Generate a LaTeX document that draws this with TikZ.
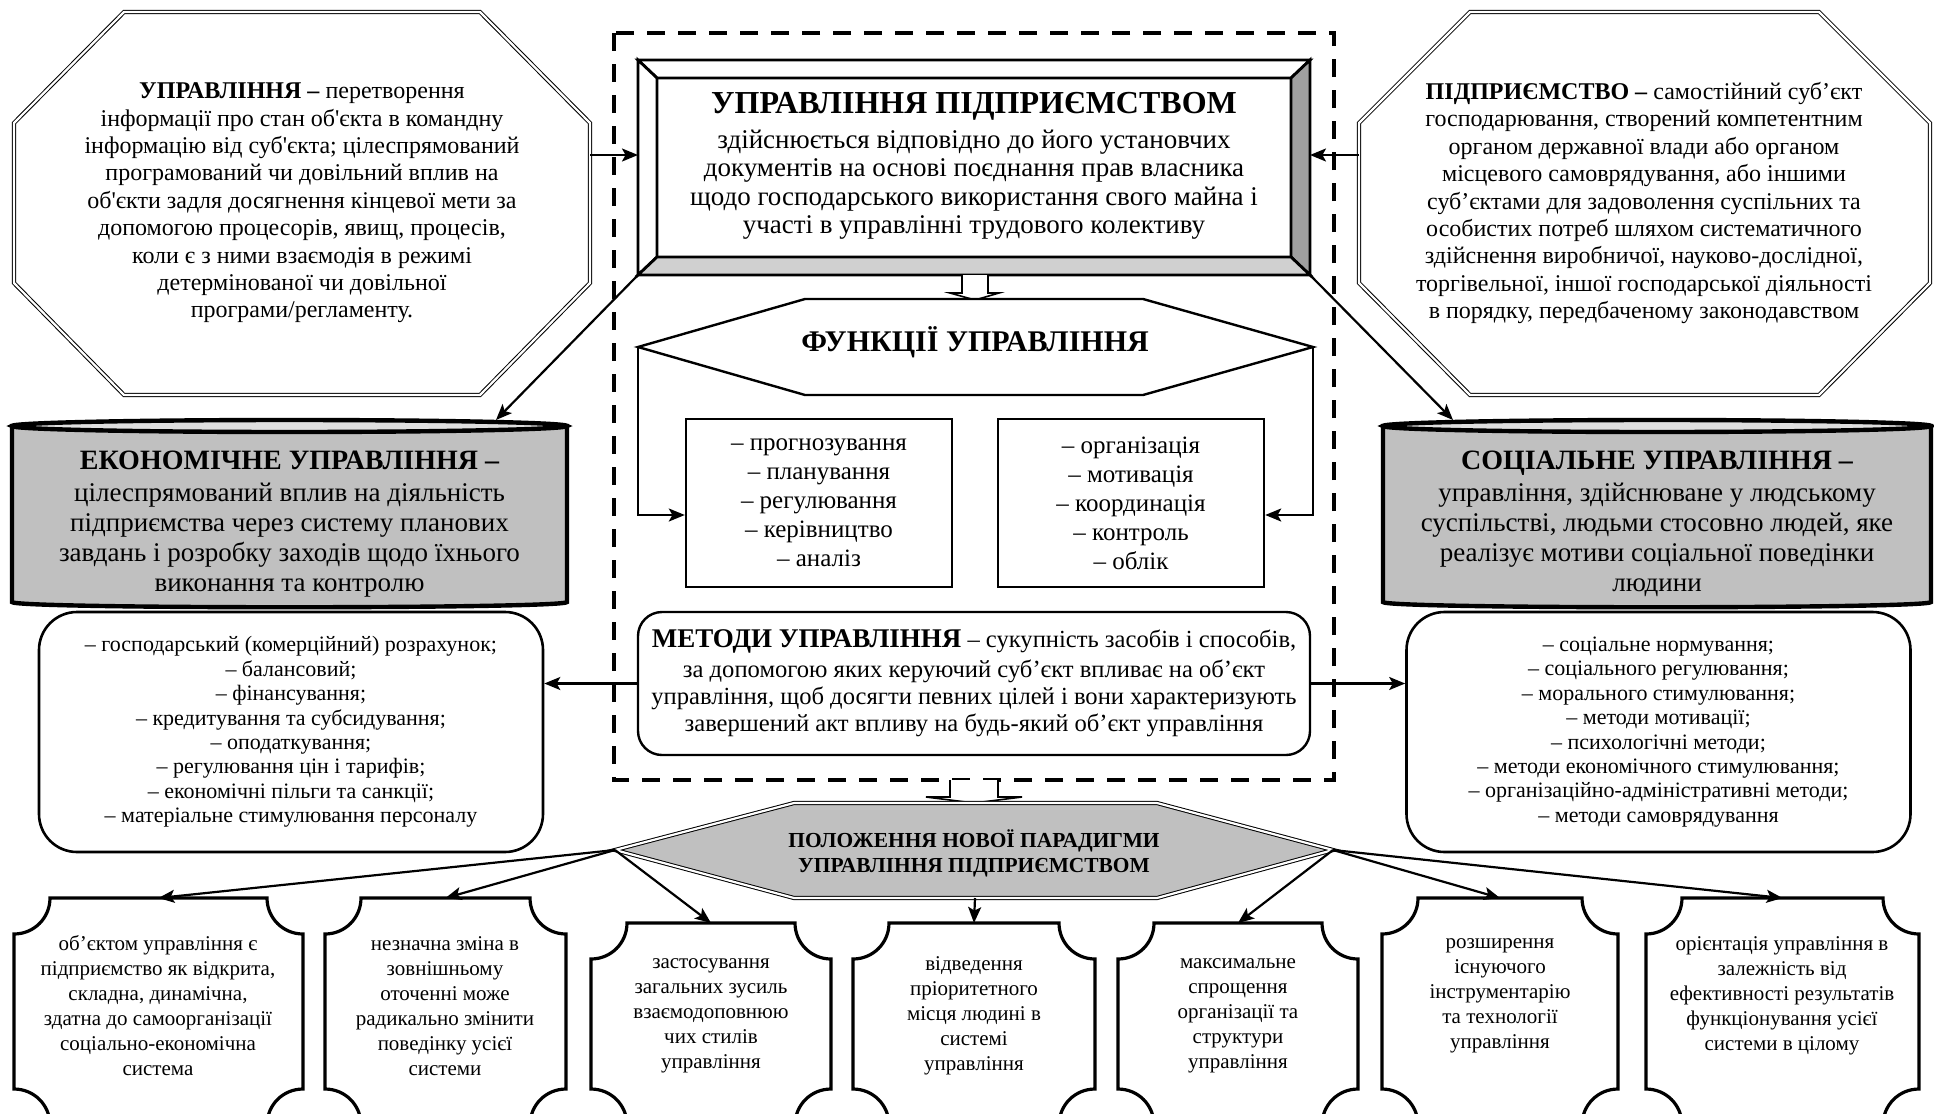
\documentclass[tikz,border=0pt]{standalone}
\usepackage{fontspec}
\setmainfont{Liberation Serif}
\usetikzlibrary{arrows.meta}
\definecolor{cylgray}{RGB}{192,192,192}
\definecolor{toplight}{RGB}{222,222,222}
\definecolor{bevlight}{RGB}{208,208,208}
\definecolor{bevdark}{RGB}{160,160,160}
\newcommand{\apos}{\textquotesingle}

\begin{document}
\begin{tikzpicture}[x=0.5pt,y=-0.5pt,
    >={Stealth[length=8pt,width=6.5pt,inset=1.8pt]},
    arr/.style={->,line width=1.1pt},
    txt/.style={align=center,inner sep=0pt},
    octbox/.style={fill=white,draw,line width=0.5pt,double,double distance=1.1pt},
    octtext/.style={txt,font=\fontsize{12}{13.7}\selectfont},
    funbox/.style={draw,line width=1.2pt,minimum width=133pt,minimum height=84pt,align=center,inner sep=0pt,font=\fontsize{12.5}{14.5}\selectfont},
    listbox/.style={draw,line width=1.3pt,rounded corners=19pt,minimum width=252pt,minimum height=120pt,align=center,inner sep=0pt,font=\fontsize{11}{12.2}\selectfont},
    cyl/.style={fill=cylgray,draw,line width=2.2pt},
    cyltext/.style={txt,font=\fontsize{13.5}{15}\selectfont},
    plaque/.style={fill=white,draw,line width=1.6pt},
    boxtext/.style={txt,font=\fontsize{10.5}{12.5}\selectfont}]

    \useasboundingbox (0,0) rectangle (1934,1114);
    \clip (0,0) rectangle (1934,1114);
    \fill[white] (0,0) rectangle (1934,1114);

    % dashed frame round the centre
    \draw[line width=2.2pt,dash pattern=on 9pt off 6.5pt] (614,33) rectangle (1334,780);

    % the two octagons
    \draw[octbox] (124,12) -- (480,12) -- (590,123) -- (590,283) -- (480,395) -- (124,395) -- (14,283) -- (14,123) -- cycle;
    \node[octtext] (upr) at (302,203) {\textbf{УПРАВЛІННЯ –} перетворення\\
        інформації про стан об\apos єкта в командну\\
        інформацію від суб\apos єкта; цілеспрямований\\
        програмований чи довільний вплив на\\
        об\apos єкти задля досягнення кінцевої мети за\\
        допомогою процесорів, явищ, процесів,\\
        коли є з ними взаємодія в режимі\\
        детермінованої чи довільної\\
        програми/регламенту.};
    \draw[octbox] (1470,12) -- (1819,12) -- (1930,123) -- (1930,283) -- (1819,395) -- (1470,395) -- (1359,283) -- (1359,123) -- cycle;
    \node[octtext] (pidpr) at (1644,203) {\textbf{ПІДПРИЄМСТВО –} самостійний суб’єкт\\
        господарювання, створений компетентним\\
        органом державної влади або органом\\
        місцевого самоврядування, або іншими\\
        суб’єктами для задоволення суспільних та\\
        особистих потреб шляхом систематичного\\
        здійснення виробничої, науково-дослідної,\\
        торгівельної, іншої господарської діяльності\\
        в порядку, передбаченому законодавством};
    \coordinate (uprR) at (590,155);
    \coordinate (pidprL) at (1359,155);

    % main box with bevel
    \node[minimum width=336pt,minimum height=107.5pt,inner sep=0pt,outer sep=0pt] (mainouter) at (974,167.5) {};
    \filldraw[fill=white,line width=1.4pt] (638,60) -- (1310,60) -- (1291,78) -- (657,78) -- cycle;
    \filldraw[fill=white,line width=1.4pt] (638,60) -- (657,78) -- (657,257) -- (638,275) -- cycle;
    \filldraw[fill=bevdark,line width=1.4pt] (1310,60) -- (1310,275) -- (1291,257) -- (1291,78) -- cycle;
    \filldraw[fill=bevlight,line width=1.4pt] (638,275) -- (1310,275) -- (1291,257) -- (657,257) -- cycle;
    \node[txt,font=\fontsize{13.5}{14.2}\selectfont] (maintext) at (974,166) {{\bfseries\fontsize{16}{18}\selectfont УПРАВЛІННЯ ПІДПРИЄМСТВОМ}\\[3pt]
        здійснюється відповідно до його установчих\\
        документів на основі поєднання прав власника\\
        щодо господарського використання свого майна і\\
        участі в управлінні трудового колективу};

    \draw[arr] (uprR) -- (uprR -| mainouter.west);
    \draw[arr] (pidprL) -- (pidprL -| mainouter.east);

    % hollow arrow down
    \filldraw[fill=white,line width=0.8pt] (962,275) -- (962,293) -- (950,293) -- (975,300) -- (999,293) -- (988,293) -- (988,275);

    % functions
    \filldraw[fill=white,line width=1.2pt] (638,347) -- (805,299) -- (1143,299) -- (1313,347) -- (1143,395) -- (805,395) -- cycle;
    \coordinate (funL) at (638,347);
    \coordinate (funR) at (1313,347);
    \node[txt,font=\bfseries\fontsize{15}{17}\selectfont] (funhead) at (975,342) {ФУНКЦІЇ УПРАВЛІННЯ};
    \node[funbox] (funleft) at (819,503) {– прогнозування\\– планування\\– регулювання\\– керівництво\\– аналіз};
    \node[funbox] (funright) at (1131,503) {– організація\\– мотивація\\– координація\\– контроль\\– облік};
    \draw[arr] (funL) |- ([yshift=-6pt]funleft.west);
    \draw[arr] (funR) |- ([yshift=-6pt]funright.east);

    % methods
    \node[draw,line width=1.2pt,rounded corners=12pt,minimum width=336pt,minimum height=71.5pt,align=center,inner sep=0pt,font=\fontsize{12.3}{13.6}\selectfont] (methods) at (974,683.5) {{\bfseries\fontsize{13.5}{14}\selectfont МЕТОДИ УПРАВЛІННЯ} – сукупність засобів і способів,\\[1pt]
        за допомогою яких керуючий суб’єкт впливає на об’єкт\\
        управління, щоб досягти певних цілей і вони характеризують\\
        завершений акт впливу на будь-який об’єкт управління};

    % cylinders
    \filldraw[cyl] (12,426) -- (12,602) .. controls (12,609) and (567,609) .. (567,602) -- (567,426) -- cycle;
    \filldraw[cyl,fill=toplight] (289.5,426) ellipse [x radius=277.5,y radius=6];
    \node[cyltext] (econ) at (289.5,524) {{\bfseries\fontsize{14}{15}\selectfont ЕКОНОМІЧНЕ УПРАВЛІННЯ –}\\[1pt]
        цілеспрямований вплив на діяльність\\
        підприємства через систему планових\\
        завдань і розробку заходів щодо їхнього\\
        виконання та контролю};
    \filldraw[cyl] (1383,426) -- (1383,602) .. controls (1383,609) and (1931,609) .. (1931,602) -- (1931,426) -- cycle;
    \filldraw[cyl,fill=toplight] (1657,426) ellipse [x radius=274,y radius=6];
    \node[cyltext] (soc) at (1657,524) {{\bfseries\fontsize{14}{15}\selectfont СОЦІАЛЬНЕ УПРАВЛІННЯ –}\\[1pt]
        управління, здійснюване у людському\\
        суспільстві, людьми стосовно людей, яке\\
        реалізує мотиви соціальної поведінки\\
        людини};
    \coordinate (econtop) at (496,420);
    \coordinate (soctop) at (1453,420);
    \draw[arr] (mainouter.south west) -- (econtop);
    \draw[arr] (mainouter.south east) -- (soctop);

    % method lists
    \node[listbox] (econlist) at (291,732) {– господарський (комерційний) розрахунок;\\
        – балансовий;\\
        – фінансування;\\
        – кредитування та субсидування;\\
        – оподаткування;\\
        – регулювання цін і тарифів;\\
        – економічні пільги та санкції;\\
        – матеріальне стимулювання персоналу};
    \node[listbox] (soclist) at (1658.5,732) {– соціальне нормування;\\
        – соціального регулювання;\\
        – морального стимулювання;\\
        – методи мотивації;\\
        – психологічні методи;\\
        – методи економічного стимулювання;\\
        – організаційно-адміністративні методи;\\
        – методи самоврядування};
    \draw[arr] (methods.west) -- (methods.west -| econlist.east);
    \draw[arr] (methods.east) -- (methods.east -| soclist.west);

    % hollow arrow to the paradigm
    \filldraw[fill=white,line width=0.8pt] (950,780) -- (950,797) -- (926,797) -- (974,803) -- (1022,797) -- (998,797) -- (998,780);

    % paradigm hexagon
    \filldraw[fill=cylgray,line width=0.5pt,double,double distance=1.1pt] (615,850) -- (794,803) -- (1157,803) -- (1333,850) -- (1157,898) -- (794,898) -- cycle;
    \coordinate (parL) at (615,850);
    \coordinate (parR) at (1333,850);
    \coordinate (parB) at (975,898);
    \node[txt,font=\bfseries\fontsize{10.7}{12.5}\selectfont] (paradigm) at (974,853) {ПОЛОЖЕННЯ НОВОЇ ПАРАДИГМИ\\УПРАВЛІННЯ ПІДПРИЄМСТВОМ};

    % bottom plaques
    \foreach \xa/\ya/\xb [count=\i] in {14/898/303, 325/898/566, 591/923/831, 853/923/1095, 1118/923/1358, 1382/898/1618, 1646/898/1919} {
        \filldraw[plaque] (\xa+36,\ya) -- (\xb-36,\ya) .. controls (\xb-36,\ya+20) and (\xb-20,\ya+36) .. (\xb,\ya+36)
            -- (\xb,1089) .. controls (\xb-20,1089) and (\xb-36,1105) .. (\xb-36,1125)
            -- (\xa+36,1125) .. controls (\xa+36,1105) and (\xa+20,1089) .. (\xa,1089)
            -- (\xa,\ya+36) .. controls (\xa+20,\ya+36) and (\xa+36,\ya+20) .. cycle;
        \coordinate (top\i) at ({(\xa+\xb)/2},\ya);
    }
    \node[boxtext] (b1) at (158,1006) {об’єктом управління є\\підприємство як відкрита,\\складна, динамічна,\\здатна до самоорганізації\\соціально-економічна\\система};
    \node[boxtext] (b2) at (445,1006) {незначна зміна в\\зовнішньому\\оточенні може\\радикально змінити\\поведінку усієї\\системи};
    \node[boxtext] (b3) at (711,1016) {застосування\\загальних зусиль\\взаємодоповнюю\\чих стилів\\управління};
    \node[boxtext] (b4) at (974,1016) {відведення\\пріоритетного\\місця людині в\\системі\\управління};
    \node[boxtext] (b5) at (1238,1016) {максимальне\\спрощення\\організації та\\структури\\управління};
    \node[boxtext] (b6) at (1500,996) {розширення\\існуючого\\інструментарію\\та технології\\управління};
    \node[boxtext] (b7) at (1782,996) {орієнтація управління в\\залежність від\\ефективності результатів\\функціонування усієї\\системи в цілому};

    \draw[arr] (parL) -- (top1);
    \draw[arr] (parL) -- (top2);
    \draw[arr] (parL) -- (top3);
    \draw[arr] (parB) -- (top4);
    \draw[arr] (parR) -- (top5);
    \draw[arr] (parR) -- (top6);
    \draw[arr] (parR) -- (top7);
\end{tikzpicture}
\end{document}
